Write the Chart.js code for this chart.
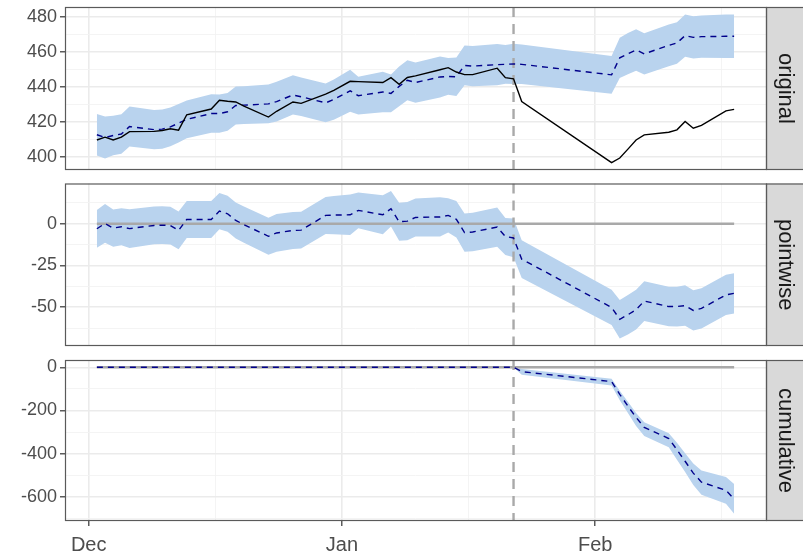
<!DOCTYPE html>
<html>
<head>
<meta charset="utf-8">
<script src="https://cdn.jsdelivr.net/npm/chart.js@4/dist/chart.umd.min.js"></script>
<style>
  html, body { margin: 0; padding: 0; background: #ffffff; }
  #wrap { position: relative; width: 803px; height: 558px; overflow: hidden; background: #ffffff; }
  .panel { position: absolute; left: 0; width: 803px; }
  canvas { display: block; }
</style>
</head>
<body>
<div id="wrap">
  <div class="panel" style="top:0px;height:177px"><canvas id="cOriginal" width="803" height="177"></canvas></div>
  <div class="panel" style="top:177px;height:176px"><canvas id="cPointwise" width="803" height="176"></canvas></div>
  <div class="panel" style="top:352px;height:206px"><canvas id="cCumulative" width="803" height="206"></canvas></div>
</div>
<script>
// ---- observation dates ----
const dates = [
  '2019-12-02','2019-12-03','2019-12-04','2019-12-05','2019-12-06',
  '2019-12-09','2019-12-10','2019-12-11','2019-12-12','2019-12-13',
  '2019-12-16','2019-12-17','2019-12-18','2019-12-19','2019-12-20',
  '2019-12-23','2019-12-24','2019-12-26','2019-12-27','2019-12-30','2019-12-31',
  '2020-01-02','2020-01-03','2020-01-06','2020-01-07','2020-01-08','2020-01-09','2020-01-10',
  '2020-01-13','2020-01-14','2020-01-15','2020-01-16','2020-01-17',
  '2020-01-20','2020-01-21','2020-01-22','2020-01-23',
  '2020-02-03','2020-02-04','2020-02-05','2020-02-06','2020-02-07',
  '2020-02-10','2020-02-11','2020-02-12','2020-02-13','2020-02-14',
  '2020-02-17','2020-02-18'
];

// ---- original series: observed response and counterfactual prediction ----
const actual = [
  409.6,411.2,409.6,411.2,414.4,
  414.5,415.0,416.0,415.2,424.0,
  427.3,432.3,431.7,431.3,429.0,
  422.7,426.0,431.3,430.5,435.8,437.9,
  443.1,442.9,442.4,445.2,441.4,445.3,446.2,
  449.7,450.9,448.4,446.9,446.9,
  450.6,445.2,444.5,431.6,
  396.7,399.3,404.4,409.6,412.5,
  414.0,415.4,420.2,416.3,417.9,
  426.2,427.1
];
const predMean = [
  412.6,411.0,412.2,413.0,417.3,
  415.5,415.8,417.1,419.2,421.4,
  424.7,424.7,425.7,429.3,429.5,
  430.2,431.5,435.3,434.3,430.8,432.7,
  437.7,434.9,437.0,436.2,440.2,443.7,442.4,
  445.6,445.9,445.7,452.2,451.8,
  452.6,452.8,453.0,452.8,
  446.8,456.5,458.9,461.0,458.8,
  463.6,465.0,469.2,468.2,468.6,
  468.8,468.8
];
const predUpper = [
  424.4,423.0,423.5,424.3,428.7,
  426.7,427.0,428.2,430.2,432.2,
  435.7,435.6,436.5,440.1,440.3,
  441.3,442.8,446.5,445.3,441.9,444.2,
  449.7,445.7,448.6,447.0,451.6,455.1,453.9,
  457.3,456.4,456.7,463.6,463.3,
  464.4,463.9,464.5,464.1,
  457.6,468.0,470.7,472.8,470.6,
  475.5,476.8,481.3,480.3,480.7,
  481.2,481.2
];
const predLower = [
  400.8,399.0,400.9,401.7,405.9,
  404.3,404.6,406.0,408.2,410.6,
  413.7,413.8,414.9,418.5,418.7,
  419.1,420.2,424.1,423.3,419.7,421.2,
  425.7,424.1,425.4,425.4,428.8,432.3,430.9,
  433.9,435.4,434.7,440.8,440.3,
  440.8,441.7,441.5,441.5,
  436.0,445.0,447.1,449.2,447.0,
  451.7,453.2,457.1,456.1,456.5,
  456.4,456.4
];

// ---- pointwise effect ----
const pointMean = [
  -3.0,0.2,-2.6,-1.8,-2.9,
  -1.0,-0.8,-1.1,-4.0,2.6,
  2.6,7.6,6.0,2.0,-0.5,
  -7.5,-5.5,-4.0,-3.8,5.0,5.2,
  5.4,8.0,5.4,9.0,1.2,1.6,3.8,
  4.1,5.0,2.7,-5.3,-4.9,
  -2.0,-7.6,-8.5,-21.2,
  -50.1,-57.2,-54.5,-51.4,-46.3,
  -49.6,-49.6,-49.0,-51.9,-50.7,
  -42.6,-41.7
];
const pointUpper = [
  8.3,11.8,8.5,9.3,8.7,
  10.3,10.5,10.2,7.3,13.7,
  13.7,18.5,16.8,12.8,10.4,
  3.6,5.8,7.1,7.2,16.1,16.7,
  17.5,18.7,17.1,19.7,12.6,13.0,15.2,
  15.9,15.3,13.7,6.2,6.6,
  9.8,3.5,3.1,-9.9,
  -39.5,-45.6,-42.6,-39.5,-34.4,
  -37.8,-37.7,-36.9,-39.8,-38.6,
  -30.5,-29.6
];
const pointLower = [
  -14.3,-11.4,-13.7,-12.9,-14.5,
  -12.3,-12.1,-12.4,-15.3,-8.5,
  -8.5,-3.3,-4.8,-8.8,-11.4,
  -18.6,-16.8,-15.1,-14.8,-6.1,-6.3,
  -6.7,-2.7,-6.3,-1.7,-10.2,-9.8,-7.6,
  -7.7,-5.3,-8.3,-16.8,-16.4,
  -13.8,-18.7,-20.1,-32.5,
  -60.7,-68.8,-66.4,-63.3,-58.2,
  -61.4,-61.5,-61.1,-64.0,-62.8,
  -54.7,-53.8
];

// ---- cumulative effect ----
const cumMean = [
  0,0,0,0,0, 0,0,0,0,0, 0,0,0,0,0, 0,0,0,0,0,0,
  0,0,0,0,0,0,0, 0,0,0,0,0, 0,0,0,
  -20,
  -66,-125,-180,-232,-278,
  -330,-382,-435,-490,-532,
  -570,-610
];
const cumUpper = [
  0,0,0,0,0, 0,0,0,0,0, 0,0,0,0,0, 0,0,0,0,0,0,
  0,0,0,0,0,0,0, 0,0,0,0,0, 0,0,0,
  -8,
  -53,-108,-160,-212,-255,
  -305,-350,-398,-445,-478,
  -508,-540
];
const cumLower = [
  0,0,0,0,0, 0,0,0,0,0, 0,0,0,0,0, 0,0,0,0,0,0,
  0,0,0,0,0,0,0, 0,0,0,0,0, 0,0,0,
  -34,
  -84,-152,-212,-272,-318,
  -370,-428,-485,-545,-590,
  -632,-678
];

// ---- axes ----
const interventionDate = '2020-01-22';
const monthTickDates = ['2019-12-01', '2020-01-01', '2020-02-01'];
const monthTickLabels = ['Dec', 'Jan', 'Feb'];
const originalTicks = [400, 420, 440, 460, 480];
const pointwiseTicks = [-50, -25, 0];
const cumulativeTicks = [-600, -400, -200, 0];
const panelTitles = ['original', 'pointwise', 'cumulative'];

// ---- helpers ----
const FONT = '"Liberation Sans", Arial, Helvetica, sans-serif';
const DAY_MS = 86400000;
const ORIGIN = Date.UTC(2019, 11, 1);
const dayOf = s => (Date.parse(s + 'T00:00:00Z') - ORIGIN) / DAY_MS;
const xs = dates.map(dayOf);
const toPoints = arr => arr.map((v, i) => ({ x: xs[i], y: v }));

const xSpan = xs[xs.length - 1] - xs[0];
const xMin = xs[0] - 0.05 * xSpan;
const xMax = xs[xs.length - 1] + 0.05 * xSpan;
const xMajor = monthTickDates.map(dayOf);

// minor breaks sit halfway between the major ones, extended one step each side
function withMinors(majors, lo, hi) {
  const out = [];
  const m = majors.slice().sort((a, b) => a - b);
  const first = m[0] - (m[1] - m[0]) / 2;
  const last = m[m.length - 1] + (m[m.length - 1] - m[m.length - 2]) / 2;
  const cand = [first];
  for (let i = 0; i < m.length; i++) {
    cand.push(m[i]);
    if (i < m.length - 1) cand.push((m[i] + m[i + 1]) / 2);
  }
  cand.push(last);
  cand.forEach(v => { if (v >= lo && v <= hi) out.push(v); });
  return out;
}
const isIn = (v, list) => list.some(m => Math.abs(m - v) < 1e-6);

function rangeOf(arrays) {
  let lo = Infinity, hi = -Infinity;
  arrays.forEach(a => a.forEach(v => { if (v < lo) lo = v; if (v > hi) hi = v; }));
  const pad = 0.05 * (hi - lo);
  return [lo - pad, hi + pad];
}

const BAND = '#b9d3ee';
const MEAN = '#00008b';
const GREY = '#a9a9a9';

const facetPlugin = {
  id: 'facet',
  afterDraw(chart, args, opts) {
    const { ctx, chartArea: a } = chart;
    ctx.save();
    // strip on the right
    ctx.fillStyle = '#d9d9d9';
    ctx.fillRect(a.right, a.top, chart.width - a.right + 5, a.bottom - a.top);
    ctx.strokeStyle = '#5a5a5a';
    ctx.lineWidth = 1.2;
    ctx.strokeRect(a.right + 0.5, a.top + 0.5, chart.width, a.bottom - a.top - 1);
    // panel border
    ctx.strokeRect(a.left + 0.5, a.top + 0.5, a.right - a.left, a.bottom - a.top - 1);
    // strip label, rotated to read downward
    ctx.translate(a.right + opts.stripCenter, (a.top + a.bottom) / 2);
    ctx.rotate(Math.PI / 2);
    ctx.fillStyle = '#1a1a1a';
    ctx.font = '22px ' + FONT;
    ctx.textAlign = 'center';
    ctx.textBaseline = 'middle';
    ctx.fillText(opts.title, 0, 0);
    ctx.restore();
  }
};

function makePanel(canvasId, p) {
  const series = [p.lower, p.upper, p.mean].concat(p.actual ? [p.actual] : []);
  if (p.baseline) series.push([0]);
  const [yMin, yMax] = rangeOf(series);
  const yTicks = withMinors(p.majors, yMin, yMax);
  const xTicks = withMinors(xMajor, xMin, xMax);
  const xv = dayOf(interventionDate);

  const datasets = [
    { data: toPoints(p.lower), borderWidth: 0, borderColor: 'rgba(0,0,0,0)', pointRadius: 0, fill: false, order: 6 },
    { data: toPoints(p.upper), borderWidth: 0, borderColor: 'rgba(0,0,0,0)', backgroundColor: BAND, pointRadius: 0, fill: '-1', order: 5 }
  ];
  if (p.baseline) {
    datasets.push({ data: [{ x: xs[0], y: 0 }, { x: xs[xs.length - 1], y: 0 }],
      borderColor: GREY, borderWidth: 2.4, pointRadius: 0, fill: false, order: 4 });
  }
  datasets.push({ data: [{ x: xv, y: yMax }, { x: xv, y: yMin }],
    borderColor: GREY, borderWidth: 2.4, borderDash: [10, 7], pointRadius: 0, fill: false, order: 3 });
  datasets.push({ data: toPoints(p.mean), borderColor: MEAN, borderWidth: 1.4, borderDash: [6, 5],
    pointRadius: 0, fill: false, order: 2 });
  if (p.actual) {
    datasets.push({ data: toPoints(p.actual), borderColor: '#000000', borderWidth: 1.4,
      pointRadius: 0, fill: false, order: 1 });
  }

  const gridColor = list => ctx => (ctx.tick && isIn(ctx.tick.value, list)) ? '#ebebeb' : '#f3f3f3';
  const gridWidth = list => ctx => (ctx.tick && isIn(ctx.tick.value, list)) ? 1.6 : 0.9;
  const tickColor = list => ctx => (ctx.tick && isIn(ctx.tick.value, list)) ? '#333333' : 'rgba(0,0,0,0)';

  return new Chart(document.getElementById(canvasId), {
    type: 'line',
    data: { datasets },
    plugins: [facetPlugin],
    options: {
      responsive: false,
      animation: false,
      devicePixelRatio: 1,
      events: [],
      layout: { padding: { left: 0, right: 37, top: p.padTop, bottom: p.padBottom } },
      elements: { line: { tension: 0 } },
      plugins: {
        legend: { display: false },
        tooltip: { enabled: false },
        facet: { title: p.title, stripCenter: 19 }
      },
      scales: {
        x: {
          type: 'linear',
          min: xMin, max: xMax,
          border: { display: false },
          grid: {
            color: gridColor(xMajor), lineWidth: gridWidth(xMajor),
            drawTicks: p.showX, tickLength: 5, tickWidth: 1.2, tickColor: tickColor(xMajor)
          },
          ticks: {
            display: p.showX, autoSkip: false, maxRotation: 0, padding: 7,
            color: '#4d4d4d', font: { family: FONT, size: 20 },
            callback: v => {
              const i = xMajor.findIndex(m => Math.abs(m - v) < 1e-6);
              return i >= 0 ? monthTickLabels[i] : '';
            }
          },
          afterBuildTicks: s => { s.ticks = xTicks.map(v => ({ value: v })); },
          afterFit: s => {
            s.height = p.showX ? 37 : 0;
            s.paddingLeft = s.paddingRight = s.paddingTop = s.paddingBottom = 0;
          }
        },
        y: {
          type: 'linear',
          min: yMin, max: yMax,
          border: { display: false },
          grid: {
            color: gridColor(p.majors), lineWidth: gridWidth(p.majors),
            tickLength: 5, tickWidth: 1.2, tickColor: tickColor(p.majors)
          },
          ticks: {
            autoSkip: false, padding: 3,
            color: '#4d4d4d', font: { family: FONT, size: 18 },
            callback: v => isIn(v, p.majors) ? String(Math.round(v)) : ''
          },
          afterBuildTicks: s => { s.ticks = yTicks.map(v => ({ value: v })); },
          afterFit: s => {
            s.width = 65;
            s.paddingLeft = s.paddingRight = s.paddingTop = s.paddingBottom = 0;
          }
        }
      }
    }
  });
}

makePanel('cOriginal', {
  title: panelTitles[0], lower: predLower, upper: predUpper, mean: predMean, actual: actual,
  baseline: false, majors: originalTicks, showX: false, padTop: 7, padBottom: 7
});
makePanel('cPointwise', {
  title: panelTitles[1], lower: pointLower, upper: pointUpper, mean: pointMean,
  baseline: true, majors: pointwiseTicks, showX: false, padTop: 6.5, padBottom: 7
});
makePanel('cCumulative', {
  title: panelTitles[2], lower: cumLower, upper: cumUpper, mean: cumMean,
  baseline: true, majors: cumulativeTicks, showX: true, padTop: 8, padBottom: 0
});
</script>
</body>
</html>
